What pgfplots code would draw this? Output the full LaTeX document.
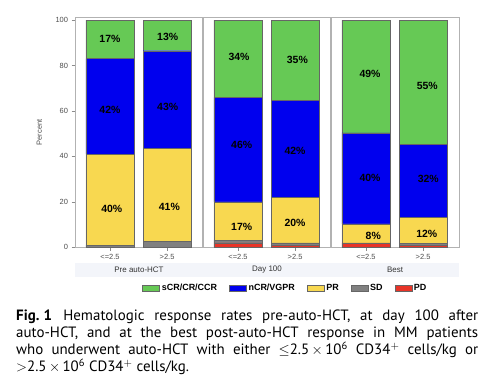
\documentclass[border=0pt]{standalone}
\usepackage{fontspec}
\setmainfont{Liberation Sans}
\newfontfamily\capfont{PT Sans}
\usepackage{pgfplots}
\pgfplotsset{compat=1.18}
\definecolor{cgreen}{RGB}{102,201,85}
\definecolor{cblue}{RGB}{0,0,238}
\definecolor{cyellow}{RGB}{248,216,80}
\definecolor{cgray}{RGB}{128,128,128}
\definecolor{cred}{RGB}{232,52,40}
\definecolor{band}{RGB}{243,245,250}
\tikzset{lbl/.style={font=\bfseries\fontsize{10.5}{12}\selectfont}}
\begin{document}
\begin{tikzpicture}[x=1bp,y=1bp]
\path[use as bounding box] (0,0) rectangle (494,380);
\fill[band] (75,103.3) rectangle (459,116.7);
\node[font=\fontsize{8}{9}\selectfont, text=black!80] at (139,110) {Pre auto-HCT};
\node[font=\fontsize{8}{9}\selectfont, text=black!80] at (267,110) {Day 100};
\node[font=\fontsize{8}{9}\selectfont, text=black!80] at (395,110) {Best};
\begin{axis}[
  at={(75bp,132.7bp)}, anchor=south west,
  scale only axis, width=384bp, height=230bp,
  xmin=0, xmax=3, ymin=0, ymax=101.2,
  ybar stacked, bar width=0.375,
  /pgf/number format/assume math mode=true,
  axis line style={black!30},
  tick pos=left, tick align=outside,
  major tick length=3.5bp,
  tick style={black!45},
  xtick={0.273,0.719,1.273,1.719,2.273,2.719},
  xticklabels={<=2.5,>2.5,<=2.5,>2.5,<=2.5,>2.5},
  ytick={0,20,40,60,80,100},
  ticklabel style={font=\fontsize{7.5}{9}\selectfont, text=black!70},
  ylabel={Percent},
  ylabel style={at={(axis description cs:-0.093,0.5)}, anchor=center, rotate=0, font=\fontsize{7.5}{9}\selectfont, text=black!70},
  legend columns=-1, reverse legend,
  legend style={at={(rel axis cs:0.548,-0.178)}, anchor=center, draw=none, fill=none,
    font=\bfseries\fontsize{9}{10}\selectfont,
    /tikz/every even column/.append style={column sep=10bp}},
  area legend,
  clip=false,
]
\draw[black!30, line width=1.2pt] (axis cs:1,0) -- (axis cs:1,101.2);
\draw[black!30, line width=1.2pt] (axis cs:2,0) -- (axis cs:2,101.2);
\addplot[fill=cred, draw=black!60] coordinates {(0.273,0) (0.719,0) (1.273,2) (1.719,1) (2.273,2) (2.719,1)};
\addplot[fill=cgray, draw=black!60] coordinates {(0.273,1) (0.719,2.5) (1.273,1.2) (1.719,1) (2.273,0) (2.719,0.6)};
\addplot[fill=cyellow, draw=black!60] coordinates {(0.273,40) (0.719,41) (1.273,16.8) (1.719,20) (2.273,8.3) (2.719,11.6)};
\addplot[fill=cblue, draw=black!60] coordinates {(0.273,42) (0.719,43) (1.273,46) (1.719,42.6) (2.273,40) (2.719,32)};
\addplot[fill=cgreen, draw=black!60] coordinates {(0.273,17) (0.719,13.5) (1.273,34) (1.719,35.4) (2.273,49.7) (2.719,54.8)};
\legend{PD,SD,PR,nCR/VGPR,sCR/CR/CCR}
\coordinate (a1) at (axis cs:0.273,91.9);
\coordinate (a2) at (axis cs:0.273,60.4);
\coordinate (a3) at (axis cs:0.287,16.7);
\coordinate (b1) at (axis cs:0.724,92.5);
\coordinate (b2) at (axis cs:0.724,61.7);
\coordinate (b3) at (axis cs:0.737,17.9);
\coordinate (c1) at (axis cs:1.281,83.9);
\coordinate (c2) at (axis cs:1.302,45.0);
\coordinate (c3) at (axis cs:1.302,9.1);
\coordinate (d1) at (axis cs:1.737,82.3);
\coordinate (d2) at (axis cs:1.719,42.5);
\coordinate (d3) at (axis cs:1.719,10.6);
\coordinate (e1) at (axis cs:2.305,76.1);
\coordinate (e2) at (axis cs:2.305,30.4);
\coordinate (e3) at (axis cs:2.330,5.0);
\coordinate (f1) at (axis cs:2.752,71.1);
\coordinate (f2) at (axis cs:2.760,29.9);
\coordinate (f3) at (axis cs:2.748,5.9);
\end{axis}
\node[lbl] at (a1) {17\%};
\node[lbl] at (a2) {42\%};
\node[lbl] at (a3) {40\%};
\node[lbl] at (b1) {13\%};
\node[lbl] at (b2) {43\%};
\node[lbl] at (b3) {41\%};
\node[lbl] at (c1) {34\%};
\node[lbl] at (c2) {46\%};
\node[lbl] at (c3) {17\%};
\node[lbl] at (d1) {35\%};
\node[lbl] at (d2) {42\%};
\node[lbl] at (d3) {20\%};
\node[lbl] at (e1) {49\%};
\node[lbl] at (e2) {40\%};
\node[lbl] at (e3) {8\%};
\node[lbl] at (f1) {55\%};
\node[lbl] at (f2) {32\%};
\node[lbl] at (f3) {12\%};
\node[anchor=base west, text width=462bp, align=justify, inner sep=0pt,
  font=\capfont\fontsize{15}{17.2}\selectfont] at (16,60)
  {\textbf{Fig.\hspace{0.28em}1}\hspace{0.75em}Hematologic response rates pre-auto-HCT, at day 100 after\linebreak auto-HCT, and at the best post-auto-HCT response in MM patients\linebreak who underwent auto-HCT with either $\leq$2.5$\,{\times}\,$10\textsuperscript{6} CD34\textsuperscript{$+$} cells/kg or\linebreak $>$2.5$\,{\times}\,$10\textsuperscript{6} CD34\textsuperscript{$+$} cells/kg.};
\end{tikzpicture}
\end{document}
